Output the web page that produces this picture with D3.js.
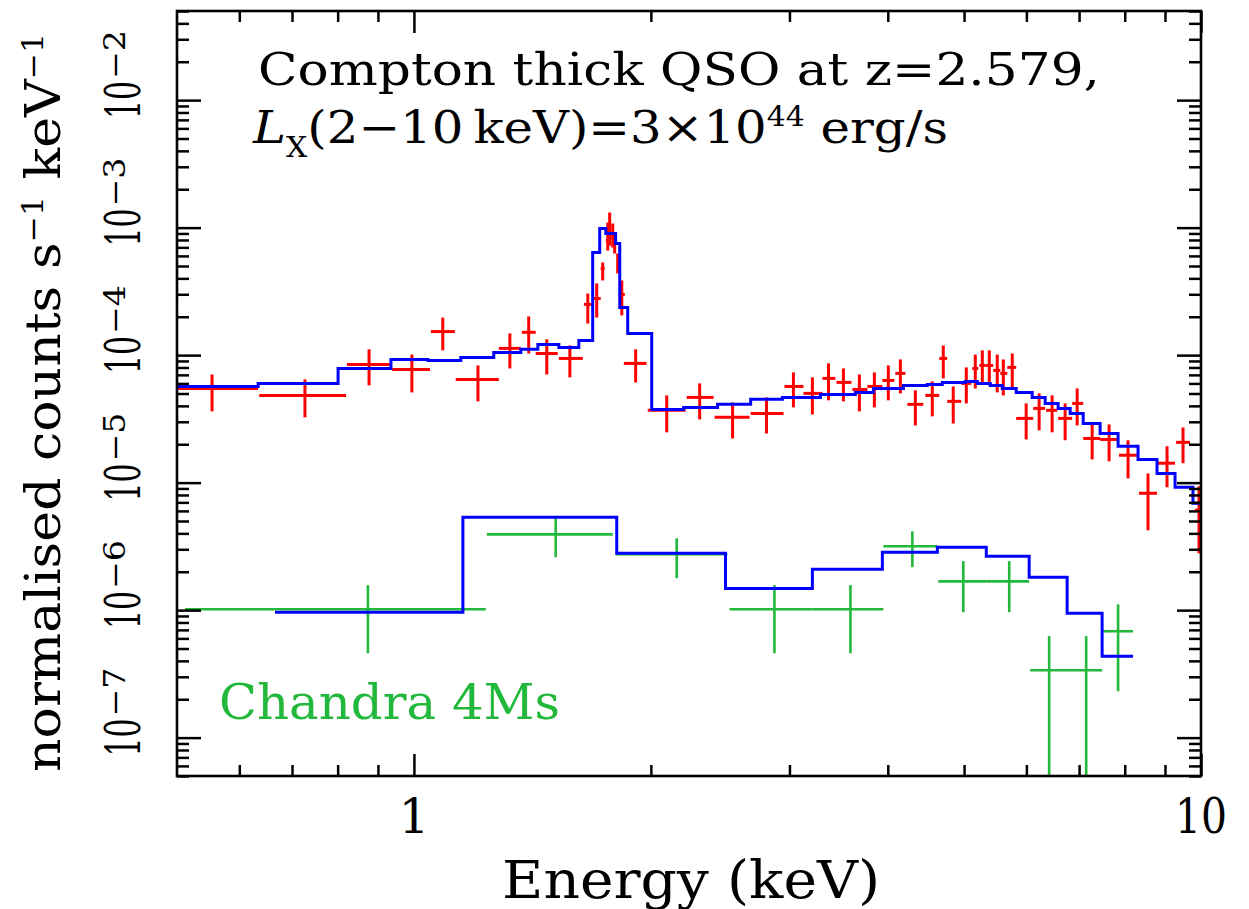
<!DOCTYPE html>
<html><head><meta charset="utf-8">
<script src="https://cdn.jsdelivr.net/npm/d3@7/dist/d3.min.js"></script>
<style>body{margin:0;background:#fff}</style>
</head><body>
<svg id="c" width="1249" height="909"></svg>
<script>
// ---------- data (energy in keV, normalised counts s^-1 keV^-1) ----------
const redE   = [0.554,0.727,0.877,0.994,1.088,1.206,1.324,1.399,1.475,1.578,1.663,1.707,1.737,1.763,1.773,1.789,1.799,1.815,1.837,1.913,2.095,2.307,2.540,2.805,3.035,3.208,3.363,3.513,3.681,3.846,4.006,4.150,4.336,4.556,4.705,4.844,5.033,5.167,5.274,5.383,5.510,5.608,5.757,5.996,6.228,6.469,6.720,6.961,7.273,7.643,8.078,8.564,9.054,9.488,9.942];
const redElo = [0.50,0.636,0.822,0.938,1.051,1.130,1.282,1.371,1.428,1.528,1.644,1.687,1.727,1.753,1.768,1.784,1.794,1.810,1.820,1.848,1.982,2.221,2.410,2.678,2.957,3.125,3.304,3.442,3.606,3.768,3.937,4.089,4.236,4.464,4.650,4.760,4.959,5.122,5.228,5.320,5.445,5.559,5.674,5.824,6.121,6.357,6.584,6.860,7.085,7.444,7.868,8.341,8.792,9.296,9.827];
const redEhi = [0.634,0.820,0.932,1.048,1.127,1.282,1.367,1.428,1.523,1.639,1.687,1.727,1.747,1.768,1.784,1.794,1.810,1.826,1.853,1.975,2.214,2.403,2.670,2.948,3.125,3.304,3.431,3.596,3.768,3.937,4.077,4.211,4.438,4.650,4.760,4.959,5.107,5.212,5.320,5.445,5.559,5.674,5.824,6.121,6.339,6.565,6.860,7.085,7.444,7.846,8.294,8.792,9.269,9.684,10.03];
const redVal = [5.48e-5,4.83e-5,8.45e-5,7.72e-5,1.53e-4,6.45e-5,1.13e-4,1.51e-4,1.03e-4,9.42e-5,2.50e-4,2.78e-4,4.78e-4,7.92e-4,9.15e-4,8.36e-4,7.50e-4,5.05e-4,2.99e-4,8.61e-5,3.69e-5,4.66e-5,3.25e-5,3.49e-5,5.68e-5,5.01e-5,6.57e-5,6.11e-5,5.38e-5,5.68e-5,6.33e-5,7.19e-5,4.11e-5,4.83e-5,9.42e-5,4.34e-5,6.00e-5,7.86e-5,8.30e-5,8.30e-5,7.59e-5,7.19e-5,8.01e-5,3.19e-5,3.82e-5,3.69e-5,3.19e-5,4.18e-5,2.22e-5,2.18e-5,1.64e-5,8.25e-6,1.42e-5,2.07e-5,6.07e-6];
const redHi  = [7.05e-5,6.45e-5,1.11e-4,1.01e-4,1.97e-4,8.30e-5,1.48e-4,2.01e-4,1.33e-4,1.19e-4,3.04e-4,3.65e-4,5.33e-4,1.096e-3,1.313e-3,1.077e-3,9.15e-4,6.26e-4,3.85e-4,1.11e-4,4.83e-5,6.00e-5,4.26e-5,4.66e-5,7.32e-5,6.69e-5,8.61e-5,7.86e-5,7.05e-5,7.32e-5,8.30e-5,9.25e-5,5.29e-5,6.22e-5,1.19e-4,5.68e-5,8.01e-5,1.01e-4,1.09e-4,1.09e-4,1.01e-4,9.25e-5,1.03e-4,4.18e-5,5.01e-5,4.83e-5,4.18e-5,5.48e-5,2.91e-5,2.86e-5,2.15e-5,1.18e-5,1.93e-5,2.71e-5,9.35e-6];
const redLo  = [3.62e-5,3.25e-5,5.79e-5,5.10e-5,1.09e-4,4.34e-5,7.86e-5,1.03e-4,7.05e-5,6.69e-5,1.77e-4,1.97e-4,3.85e-4,6.61e-4,7.24e-4,6.98e-4,6.26e-4,4.37e-4,2.05e-4,6.11e-5,2.48e-5,3.13e-5,2.22e-5,2.43e-5,3.89e-5,3.43e-5,4.42e-5,4.34e-5,3.62e-5,3.89e-5,4.42e-5,5.01e-5,2.81e-5,3.31e-5,6.57e-5,2.91e-5,4.18e-5,5.48e-5,6.00e-5,5.79e-5,5.10e-5,4.83e-5,5.58e-5,2.18e-5,2.57e-5,2.48e-5,2.15e-5,2.81e-5,1.52e-5,1.47e-5,1.08e-5,4.23e-6,9.19e-6,1.42e-5,2.79e-6];

const grnE   = [0.874,1.514,2.157,2.871,3.586,4.298,4.989,5.706,6.413,7.147,7.846];
const grnElo = [0.512,1.238,1.804,2.518,3.208,3.948,4.637,5.336,6.067,6.760,7.510];
const grnEhi = [1.234,1.789,2.503,3.208,3.948,4.624,5.336,6.049,6.760,7.488,8.197];
const grnVal = [1.016e-6,3.93e-6,2.74e-6,1.016e-6,1.016e-6,3.17e-6,1.68e-6,1.68e-6,3.38e-7,3.38e-7,6.83e-7];
const grnHi  = [1.57e-6,5.25e-6,3.66e-6,1.57e-6,1.57e-6,4.15e-6,2.42e-6,2.42e-6,6.25e-7,6.25e-7,1.11e-6];
const grnLo  = [4.59e-7,2.60e-6,1.78e-6,4.59e-7,4.59e-7,2.17e-6,9.63e-7,9.63e-7,1e-8,1e-8,2.31e-7];

// model step functions: bin edges and bin values
const modelRedEdges = [0.5,0.634,0.801,0.935,1.042,1.147,1.263,1.367,1.437,1.528,1.620,1.687,1.722,1.753,1.804,1.826,1.869,2.005,2.201,2.431,2.678,2.939,3.284,3.638,3.835,4.187,4.490,4.691,5.018,5.197,5.399,5.591,5.824,6.103,6.339,6.584,6.820,7.085,7.444,7.846,8.318,8.792,9.269,9.768,10.0];
const modelRedVals  = [5.68e-5,6.00e-5,7.86e-5,9.25e-5,9.09e-5,9.59e-5,1.05e-4,1.11e-4,1.21e-4,1.15e-4,1.30e-4,6.38e-4,9.84e-4,8.99e-4,7.50e-4,2.36e-4,1.48e-4,3.75e-5,3.89e-5,4.11e-5,4.50e-5,4.66e-5,4.92e-5,5.10e-5,5.48e-5,5.79e-5,5.89e-5,6.11e-5,6.22e-5,6.00e-5,5.79e-5,5.48e-5,5.10e-5,4.66e-5,4.18e-5,3.82e-5,3.49e-5,2.91e-5,2.43e-5,1.93e-5,1.52e-5,1.18e-5,9.19e-6,6.88e-6];
const modelGrnEdges = [0.666,1.154,1.810,2.488,3.208,3.937,4.624,5.336,6.049,6.760,7.488,8.197];
const modelGrnVals  = [9.63e-7,5.35e-6,2.79e-6,1.48e-6,2.09e-6,2.84e-6,3.11e-6,2.64e-6,1.81e-6,9.46e-7,4.35e-7];

const xMajor = [1, 10];
const xTickLabels = ["1", "10"];
const yMajorExp = [-2, -3, -4, -5, -6, -7];
const titleLine1 = "Compton thick QSO at z=2.579,";
const legendText = "Chandra 4Ms";
const xTitle = "Energy (keV)";

// ---------- drawing ----------
const FONT = "DejaVu Serif";
const RED = "#ff0000", BLUE = "#0000ff", GREEN = "#22b83c";
const svg = d3.select("#c");
const L = 177, R = 1201, T = 11, B = 776;
const x = d3.scaleLog().domain([0.5, 10]).range([L, R]);
const y = d3.scaleLog().domain([5e-8, 5e-2]).range([B, T]);

svg.append("defs").append("clipPath").attr("id", "clip")
  .append("rect").attr("x", L).attr("y", T).attr("width", R - L).attr("height", B - T);
const plot = svg.append("g").attr("clip-path", "url(#clip)");

// models
function stepLine(edges, vals, color, w) {
  const pts = edges.map((e, i) => [e, vals[Math.min(i, vals.length - 1)]]);
  const line = d3.line().x(d => x(d[0])).y(d => y(d[1])).curve(d3.curveStepAfter);
  plot.append("path").attr("d", line(pts)).attr("fill", "none")
    .attr("stroke", color).attr("stroke-width", w).attr("stroke-linejoin", "miter");
}

// error-bar crosses
function crosses(E, Elo, Ehi, V, Vhi, Vlo, color, w) {
  const g = plot.append("g").attr("stroke", color).attr("stroke-width", w);
  E.forEach((e, i) => {
    g.append("line").attr("x1", x(Elo[i])).attr("x2", x(Ehi[i]))
      .attr("y1", y(V[i])).attr("y2", y(V[i]));
    g.append("line").attr("x1", x(e)).attr("x2", x(e))
      .attr("y1", y(Vhi[i])).attr("y2", y(Vlo[i]));
  });
}

crosses(grnE, grnElo, grnEhi, grnVal, grnHi, grnLo, GREEN, 2.6);
crosses(redE, redElo, redEhi, redVal, redHi, redLo, RED, 3);
stepLine(modelGrnEdges, modelGrnVals, BLUE, 3);
stepLine(modelRedEdges, modelRedVals, BLUE, 3);

// axes ticks (inward, on all four sides)
const xMinor = [];
[0.1, 1].forEach(d => { for (let m = 2; m <= 9; m++) { const v = m * d; if (v > 0.5 && v < 10) xMinor.push(v); } });
const yMajor = yMajorExp.map(e => Math.pow(10, e));
const yMinor = [];
for (let e = -8; e <= -2; e++) for (let m = 2; m <= 9; m++) { const v = m * Math.pow(10, e); if (v >= 5e-8 && v <= 5.0001e-2) yMinor.push(v); }

function tickSet(axisFn, scale, vals, size, tr) {
  const g = svg.append("g").attr("transform", tr)
    .call(axisFn(scale).tickValues(vals).tickSize(size).tickFormat(""));
  g.select(".domain").remove();
  g.selectAll("line").attr("stroke", "#000").attr("stroke-width", 2.5);
}
tickSet(d3.axisBottom, x, xMajor, -22, `translate(0,${B})`);
tickSet(d3.axisBottom, x, xMinor, -11, `translate(0,${B})`);
tickSet(d3.axisTop, x, xMajor, -22, `translate(0,${T})`);
tickSet(d3.axisTop, x, xMinor, -11, `translate(0,${T})`);
tickSet(d3.axisLeft, y, yMajor, -24, `translate(${L},0)`);
tickSet(d3.axisLeft, y, yMinor, -12, `translate(${L},0)`);
tickSet(d3.axisRight, y, yMajor, -24, `translate(${R},0)`);
tickSet(d3.axisRight, y, yMinor, -12, `translate(${R},0)`);

svg.append("rect").attr("x", L).attr("y", T).attr("width", R - L).attr("height", B - T)
  .attr("fill", "none").attr("stroke", "#000").attr("stroke-width", 2.6);

// x tick labels
xMajor.forEach((v, i) => {
  const t = svg.append("text").attr("x", x(v)).attr("y", 833).attr("text-anchor", "middle")
    .attr("font-family", FONT).attr("font-size", 48).attr("fill", "#000").text(xTickLabels[i]);
  if (xTickLabels[i].length > 1) t.attr("textLength", 52).attr("lengthAdjust", "spacingAndGlyphs");
});

// y tick labels (rotated, 10^n)
yMajorExp.forEach(e => {
  const ty = y(Math.pow(10, e));
  svg.append("text").attr("transform", `translate(140,${ty + 19}) rotate(-90)`)
    .attr("font-family", FONT).attr("font-size", 48).attr("fill", "#000")
    .attr("textLength", 38).attr("lengthAdjust", "spacingAndGlyphs").text("10");
  svg.append("text").attr("transform", `translate(125,${ty - 21}) rotate(-90)`)
    .attr("font-family", FONT).attr("font-size", 29).attr("fill", "#000")
    .attr("textLength", 49).attr("lengthAdjust", "spacingAndGlyphs").text("\u2212" + Math.abs(e));
});

// y axis title
const yt = svg.append("text").attr("transform", "translate(60,772) rotate(-90)")
  .attr("font-family", FONT).attr("font-size", 48).attr("fill", "#000")
  .attr("textLength", 739).attr("lengthAdjust", "spacingAndGlyphs");
yt.append("tspan").text("normalised counts s");
yt.append("tspan").attr("font-size", 29).attr("dy", -17).text("\u22121");
yt.append("tspan").attr("dy", 17).text(" keV");
yt.append("tspan").attr("font-size", 29).attr("dy", -17).text("\u22121");

// x axis title
svg.append("text").attr("x", 502).attr("y", 898).attr("font-family", FONT).attr("font-size", 52)
  .attr("fill", "#000").attr("textLength", 378).attr("lengthAdjust", "spacingAndGlyphs").text(xTitle);

// annotation
svg.append("text").attr("x", 258).attr("y", 85).attr("font-family", FONT).attr("font-size", 45)
  .attr("fill", "#000").attr("textLength", 842).attr("lengthAdjust", "spacingAndGlyphs").text(titleLine1);
const t2 = svg.append("text").attr("x", 253).attr("y", 143).attr("font-family", FONT).attr("font-size", 45)
  .attr("fill", "#000").attr("textLength", 695).attr("lengthAdjust", "spacingAndGlyphs");
t2.append("tspan").attr("font-style", "italic").text("L");
t2.append("tspan").attr("font-size", 27).attr("dy", 14).text("X");
t2.append("tspan").attr("dy", -14).text("(2\u221210\u2009keV)=3\u00d710");
t2.append("tspan").attr("font-size", 27).attr("dy", -17).text("44");
t2.append("tspan").attr("dy", 17).text(" erg/s");

svg.append("text").attr("x", 219).attr("y", 719).attr("font-family", FONT).attr("font-size", 49)
  .attr("fill", GREEN).attr("textLength", 341).attr("lengthAdjust", "spacingAndGlyphs").text(legendText);
</script>
</body></html>
